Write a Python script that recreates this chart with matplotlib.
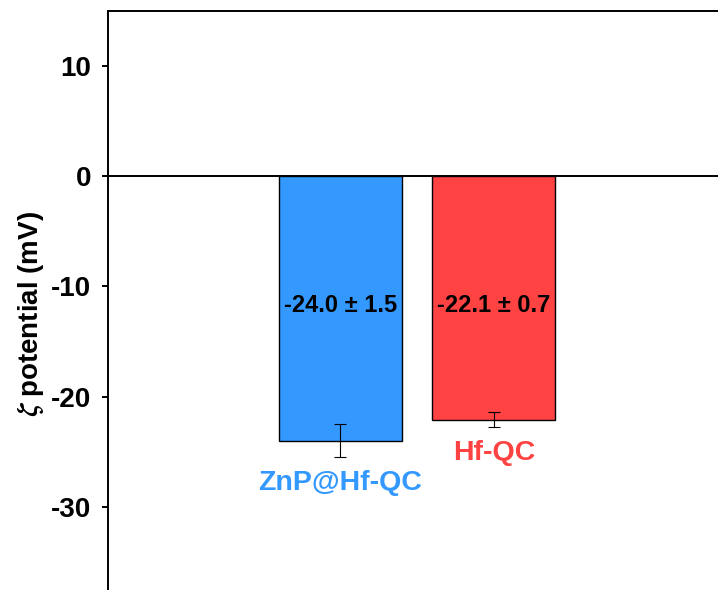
import matplotlib
matplotlib.use("Agg")
import matplotlib.pyplot as plt

plt.rcParams['font.family'] = ['Liberation Sans', 'DejaVu Sans']
plt.rcParams['font.weight'] = 'bold'
plt.rcParams['mathtext.fontset'] = 'stix'
plt.rcParams['axes.unicode_minus'] = False

# zeta potential measurements
samples = ["ZnP@Hf-QC", "Hf-QC"]
zeta_mean = [-24.0, -22.1]
zeta_std = [1.5, 0.7]
bar_colors = ["#3399FF", "#FF4242"]
yticks = [10, 0, -10, -20, -30]

fig = plt.figure(figsize=(7.18, 5.90), dpi=100)
ax = fig.add_axes([0.1504, -0.0458, 0.8587, 1.0272])

xpos = [1, 2]
ax.bar(xpos, zeta_mean, width=0.8, color=bar_colors, edgecolor="black", linewidth=1.0, zorder=2)
ax.errorbar(xpos, zeta_mean, yerr=zeta_std, fmt="none", ecolor="black",
            elinewidth=0.8, capsize=4, capthick=0.8, zorder=3)
ax.axhline(0, color="black", linewidth=1.4, zorder=4)

for x, m, s, c, name in zip(xpos, zeta_mean, zeta_std, bar_colors, samples):
    ax.text(x, -11.7, f"{m:.1f} \u00b1 {s:.1f}", ha="center", va="center",
            fontsize=17, fontweight="bold", color="black", zorder=5)
    ax.text(x, m - s - 2.3, name, ha="center", va="center",
            fontsize=20.5, fontweight="bold", color=c, zorder=5)

ax.set_xlim(-0.51, 3.5)
ax.set_ylim(-40, 15)
ax.set_yticks(yticks)
ax.set_xticks([])
ax.tick_params(axis="y", direction="out", length=4, width=1.4, labelsize=20, pad=8)
for lab in ax.get_yticklabels():
    lab.set_fontweight("bold")
for sp in ax.spines.values():
    sp.set_linewidth(1.4)

ax.set_ylabel(r"$\zeta$ potential (mV)", fontsize=20, fontweight="bold", labelpad=4)

fig.savefig("out.png", dpi=100)
plt.close(fig)
